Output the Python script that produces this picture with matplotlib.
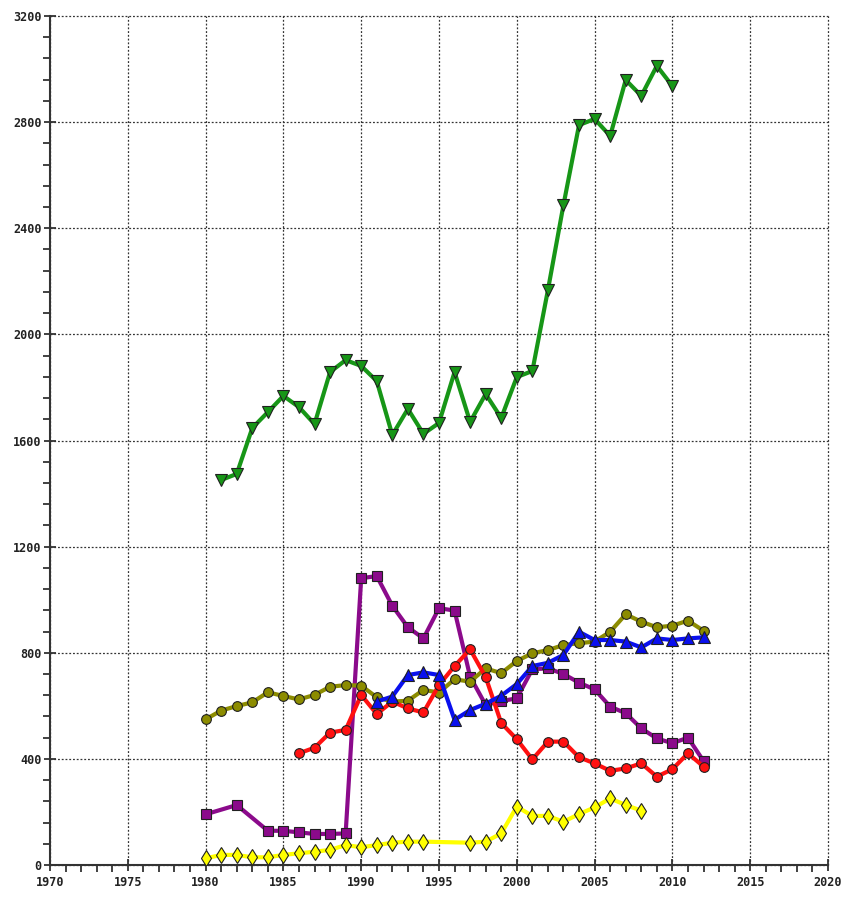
import matplotlib
matplotlib.use("Agg")
import matplotlib.pyplot as plt
from matplotlib.ticker import MultipleLocator

# Green (triangle down) 1981-2010
green_years = list(range(1981, 2011))
green_vals = [1451, 1474, 1647, 1707, 1768, 1726, 1662, 1858, 1903, 1881,
              1824, 1621, 1719, 1625, 1666, 1858, 1670, 1775, 1685, 1839,
              1862, 2167, 2488, 2789, 2812, 2748, 2959, 2899, 3012, 2936]

# Purple (squares)
purple_years = [1980, 1982, 1984, 1985, 1986, 1987, 1988, 1989] + list(range(1990, 2013))
purple_vals = [191, 226, 129, 129, 123, 117, 117, 119,
               1081, 1089, 977, 896, 854, 968, 959, 710, 603, 618,
               628, 738, 741, 720, 687, 662, 597, 572, 515, 477, 459, 480, 392]

# Red (circles) 1986-2012
red_years = list(range(1986, 2013))
red_vals = [421, 442, 499, 509, 641, 569, 616, 590, 575, 678, 750, 813, 708, 535,
            474, 398, 465, 465, 406, 383, 355, 364, 383, 333, 361, 421, 371]

# Olive (circles) 1980-2012
olive_years = list(range(1980, 2013))
olive_vals = [549, 582, 599, 613, 651, 637, 624, 641, 672, 678, 676, 632, 616, 619,
              660, 650, 700, 691, 741, 723, 769, 798, 810, 829, 836, 842, 879, 945,
              917, 896, 902, 921, 883]

# Blue (triangle up) 1991-2012
blue_years = list(range(1991, 2013))
blue_vals = [616, 635, 716, 726, 716, 547, 584, 608, 638, 682, 750, 762, 792, 879,
             848, 848, 842, 820, 854, 848, 854, 858]

# Yellow (diamonds)
yellow_years = list(range(1980, 1995)) + list(range(1997, 2009))
yellow_vals = [25, 38, 38, 29, 29, 38, 44, 50, 57, 75, 67, 75, 84, 88, 88,
               84, 88, 119, 220, 185, 185, 163, 192, 217, 251, 226, 205]

x_ticks = list(range(1970, 2021, 5))
y_ticks = list(range(0, 3201, 400))

fig = plt.figure(figsize=(8.41, 8.98), dpi=100)
ax = fig.add_axes([50/841, 33/898, 778/841, 849/898])

series = [
    (purple_years, purple_vals, '#8b0a8b', 's', 7),
    (olive_years, olive_vals, '#8c8c00', 'o', 7),
    (red_years, red_vals, '#ff1010', 'o', 7),
    (blue_years, blue_vals, '#0a10ee', '^', 8),
    (yellow_years, yellow_vals, '#ffff00', 'd', 8),
    (green_years, green_vals, '#179617', 'v', 9),
]
for xs, ys, c, m, ms in series:
    ax.plot(xs, ys, color=c, lw=3, marker=m, markersize=ms,
            markerfacecolor=c, markeredgecolor='#202020', markeredgewidth=0.8,
            solid_joinstyle='round', zorder=3)

ax.set_xlim(1970, 2020)
ax.set_ylim(0, 3200)
ax.set_xticks(x_ticks)
ax.set_yticks(y_ticks)
ax.xaxis.set_minor_locator(MultipleLocator(1))
ax.yaxis.set_minor_locator(MultipleLocator(80))
ax.grid(True, which='major', color='#333333', linestyle=(0, (1.5, 1.5)), linewidth=0.9)
for gl in ax.get_xgridlines() + ax.get_ygridlines():
    gl.set_clip_on(False)
for s in ['top', 'right']:
    ax.spines[s].set_visible(False)
for s in ['left', 'bottom']:
    ax.spines[s].set_color('#333333')
    ax.spines[s].set_linewidth(1.5)
ax.tick_params(which='major', length=8, width=1.3, color='#333333', direction='inout')
ax.tick_params(which='minor', length=5, width=1.3, color='#333333', direction='out')
for lab in ax.get_xticklabels() + ax.get_yticklabels():
    lab.set_family(['DejaVu Sans Mono', 'DejaVu Sans'])
    lab.set_fontweight('bold')
    lab.set_fontsize(8.5)
    lab.set_color('#222222')
ax.tick_params(axis='x', pad=4)
ax.tick_params(axis='y', pad=2)

fig.savefig('out.png', dpi=100)
